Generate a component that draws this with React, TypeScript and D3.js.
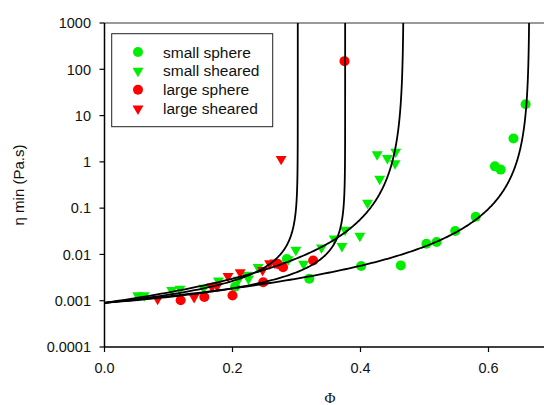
import React from 'react';
import * as d3 from 'd3';

// measured points: [phi, eta (Pa.s)]
const smallSphere: [number, number][] = [
  [0.204, 0.0020], [0.285, 0.0080], [0.320, 0.0030], [0.401, 0.0056],
  [0.463, 0.0058], [0.503, 0.017], [0.519, 0.0186], [0.548, 0.032],
  [0.580, 0.065], [0.610, 0.80], [0.619, 0.68], [0.639, 3.2], [0.658, 17.5],
];
const smallSheared: [number, number][] = [
  [0.052, 0.0013], [0.062, 0.0013], [0.105, 0.0017], [0.118, 0.0018],
  [0.155, 0.0019], [0.178, 0.0027], [0.209, 0.0028], [0.225, 0.0030],
  [0.222, 0.0036], [0.240, 0.0053], [0.287, 0.0078], [0.299, 0.0125],
  [0.311, 0.0062], [0.339, 0.014], [0.359, 0.022], [0.371, 0.015],
  [0.376, 0.034], [0.399, 0.025], [0.411, 0.13], [0.430, 0.43],
  [0.426, 1.45], [0.442, 1.2], [0.455, 1.65], [0.454, 0.93],
];
const largeSphere: [number, number][] = [
  [0.119, 0.00102], [0.156, 0.0012], [0.200, 0.0013], [0.248, 0.0025],
  [0.271, 0.0062], [0.279, 0.0053], [0.326, 0.0074], [0.375, 150],
];
const largeSheared: [number, number][] = [
  [0.083, 0.0011], [0.140, 0.0012], [0.168, 0.0020], [0.176, 0.0021],
  [0.193, 0.0034], [0.212, 0.0041], [0.247, 0.0046], [0.258, 0.0064],
  [0.266, 0.0066], [0.276, 1.15],
];

// fitted Krieger-Dougherty curves: eta0 * (1 - phi/phiMax)^-n
const eta0 = 0.0009;
const phiMax = [0.302, 0.376, 0.4675, 0.664];
const exponents = [1.0, 0.95, 2.15, 2.0];

const yTicks = [0.0001, 0.001, 0.01, 0.1, 1, 10, 100, 1000];
const yTickLabels = ['0.0001', '0.001', '0.01', '0.1', '1', '10', '100', '1000'];
const xTicks = [0, 0.2, 0.4, 0.6];
const xTickLabels = ['0.0', '0.2', '0.4', '0.6'];

const legendLabels = ['small sphere', 'small sheared', 'large sphere', 'large sheared'];

const GREEN = '#00ee00';
const RED = '#ff0000';
const FONT = '"Liberation Sans", Arial, sans-serif';

const App = () => {
  const left = 104.5, top = 23, bottom = 347;
  const x = d3.scaleLinear().domain([0, 0.7]).range([left, left + 0.7 * 640]);
  const y = d3.scaleLog().domain([0.0001, 1000]).range([bottom, top]);

  const line = d3.line<[number, number]>()
    .x(d => x(d[0]))
    .y(d => y(d[1]));

  const curves = phiMax.map((pm, i) => {
    const n = exponents[i];
    const uEnd = Math.pow(1000 / eta0, -1 / n);
    const N = 400;
    return d3.range(N + 1).map(k => {
      const u = Math.pow(uEnd, k / N);
      return [pm * (1 - u), eta0 * Math.pow(u, -n)] as [number, number];
    });
  });

  const tri = d3.symbol().type(d3.symbolTriangle).size(52)();
  const circle = (cx: number, cy: number, key: string | number, fill: string) =>
    <circle key={key} cx={cx} cy={cy} r={5} fill={fill} />;
  const triangle = (cx: number, cy: number, key: string | number, fill: string) =>
    <path key={key} d={tri} transform={`translate(${cx},${cy}) rotate(180)`} fill={fill} />;

  const series = [
    { data: smallSphere, color: GREEN, mark: circle },
    { data: smallSheared, color: GREEN, mark: triangle },
    { data: largeSphere, color: RED, mark: circle },
    { data: largeSheared, color: RED, mark: triangle },
  ];

  return (
    <svg width={544} height={405} style={{ position: 'absolute', left: 0, top: 0, background: '#fff' }}
      fontFamily={FONT}>
      <defs>
        <clipPath id="plot">
          <rect x={left} y={top} width={544 - left} height={bottom - top} />
        </clipPath>
      </defs>

      {/* frame */}
      <line x1={left} x2={544} y1={top} y2={top} stroke="#777" strokeWidth={1.5} />
      <line x1={left} x2={left} y1={top} y2={bottom} stroke="#000" strokeWidth={1.5} />
      <line x1={left} x2={544} y1={bottom} y2={bottom} stroke="#000" strokeWidth={1.5} />

      {yTicks.map((t, i) => (
        <g key={t}>
          <line x1={left - 5} x2={left} y1={y(t)} y2={y(t)} stroke="#000" strokeWidth={1.2} />
          <text x={91} y={y(t)} dy="0.36em" textAnchor="end" fontSize={14.5} fill="#111">{yTickLabels[i]}</text>
        </g>
      ))}
      {xTicks.map((t, i) => (
        <g key={t}>
          <line x1={x(t)} x2={x(t)} y1={bottom} y2={bottom + 5} stroke="#000" strokeWidth={1.2} />
          <text x={x(t)} y={373} textAnchor="middle" fontSize={14.5} fill="#111">{xTickLabels[i]}</text>
        </g>
      ))}

      <text transform="translate(24,185) rotate(-90)" textAnchor="middle" fontSize={15} fill="#111">
        η min (Pa.s)
      </text>
      <text x={330} y={403} textAnchor="middle" fontSize={15} fontFamily='"Liberation Serif", serif' fill="#111">Φ</text>

      <g clipPath="url(#plot)">
        {series.map((s, si) => (
          <g key={si}>
            {s.data.map((d, i) => s.mark(x(d[0]), y(d[1]), i, s.color))}
          </g>
        ))}
        {curves.map((c, i) => (
          <path key={i} d={line(c) || ''} fill="none" stroke="#000" strokeWidth={1.8} />
        ))}
      </g>

      {/* legend */}
      <rect x={111.7} y={33.7} width={161} height={93} fill="#fff" stroke="#222" strokeWidth={1} />
      {series.map((s, i) => {
        const cy = 52 + i * 18.9;
        return (
          <g key={i}>
            {s.mark(138, cy, 'm', s.color)}
            <text x={163} y={cy} dy="0.36em" fontSize={15.5} fill="#111">{legendLabels[i]}</text>
          </g>
        );
      })}
    </svg>
  );
};

export default App;
